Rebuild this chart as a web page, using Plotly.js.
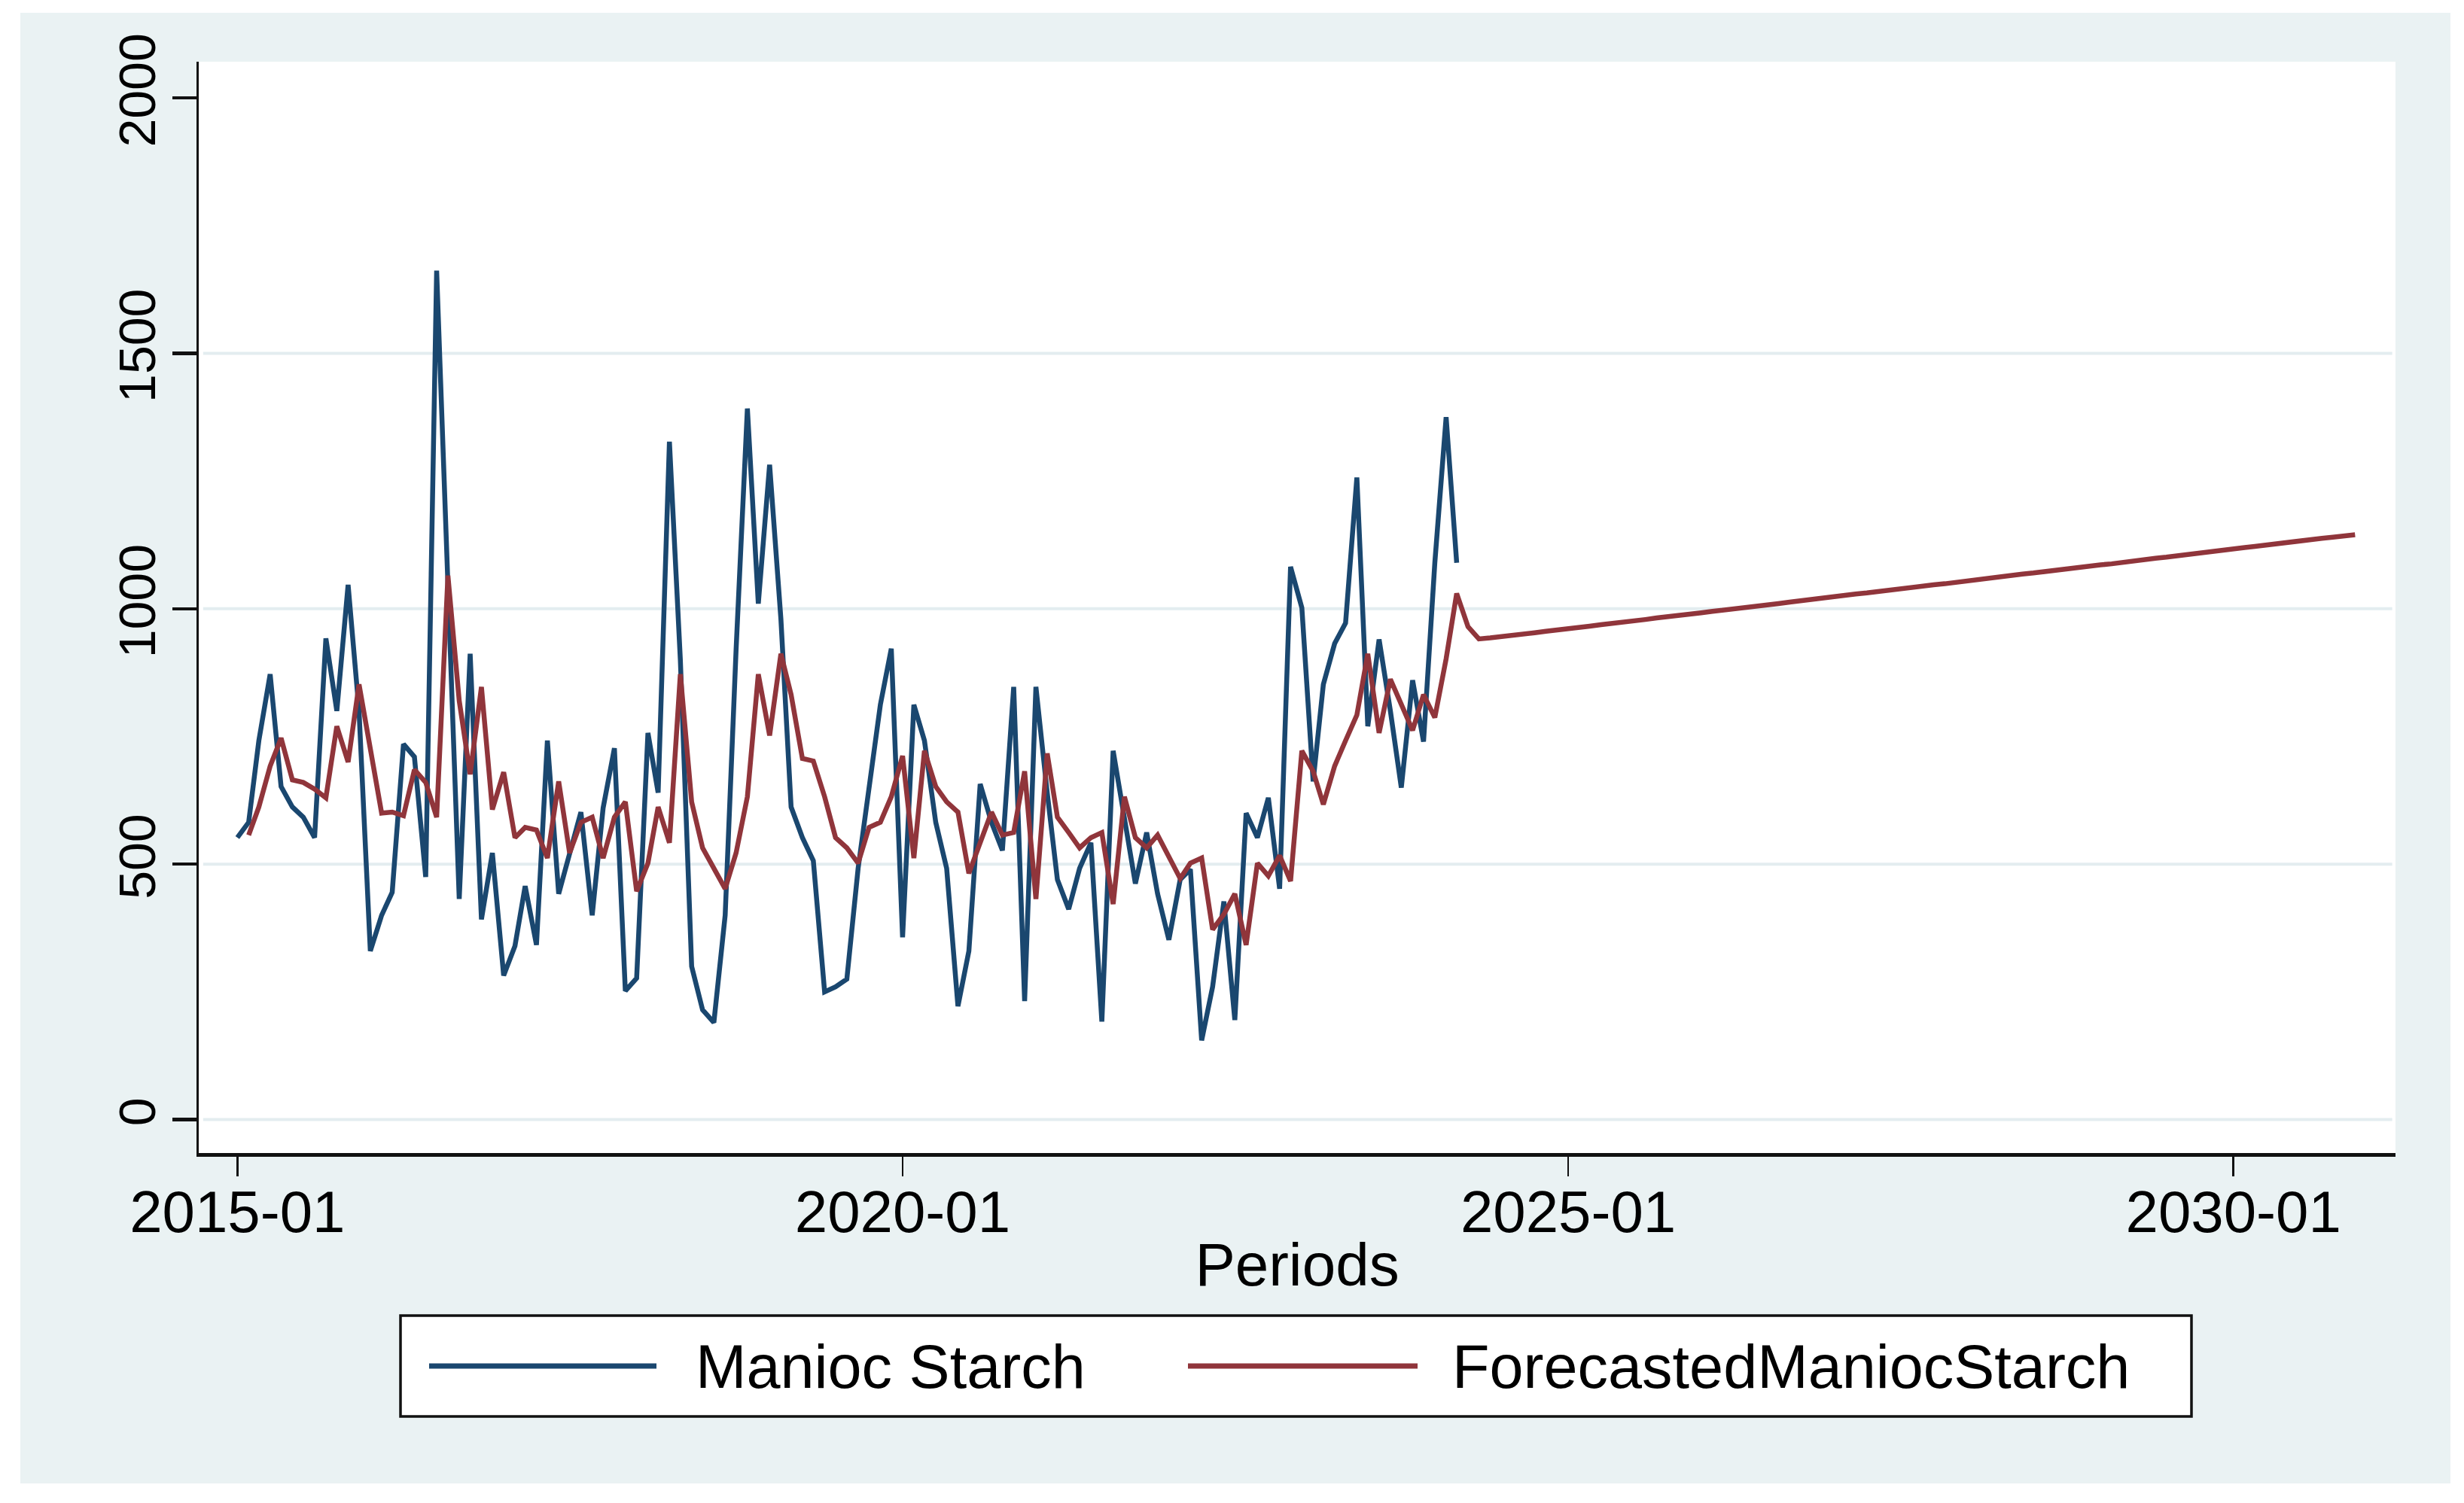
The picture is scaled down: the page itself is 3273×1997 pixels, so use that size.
<!DOCTYPE html>
<html>
<head>
<meta charset="utf-8">
<script src="https://cdn.plot.ly/plotly-3.0.1.min.js"></script>
<style>
  html, body { margin: 0; padding: 0; background: #ffffff; }
  #chart { position: absolute; left: 27px; top: 17px; width: 3228px; height: 1954px; }
</style>
</head>
<body>
<div id="chart"></div>
<script>
// Monthly series; the first observation is January 2015.
const startYear = 2015;
const startMonth = 1;

// Observed manioc starch, 2015-01 .. 2024-03
const maniocStarch = [
  552, 582, 742, 872, 652, 612, 592, 552, 942, 800,
  1047, 800, 330, 400, 445, 735, 710, 475, 1662, 1060,
  432, 912, 392, 522, 282, 340, 457, 342, 742, 442,
  520, 602, 400, 610, 727, 252, 277, 757, 640, 1327,
  900, 300, 215, 190, 400, 920, 1392, 1010, 1282, 980,
  612, 552, 507, 250, 260, 275, 492, 642, 812, 922,
  357, 812, 742, 582, 492, 222, 330, 657, 582, 527,
  847, 232, 847, 640, 470, 412, 492, 542, 192, 722,
  592, 462, 562, 442, 352, 470, 490, 155, 260, 427,
  195, 600, 552, 630, 452, 1082, 1002, 662, 852, 932,
  972, 1257, 770, 940, 800, 650, 860, 740, 1090, 1375,
  1090
];

// Forecast starts one month after the first observation (2015-02 .. 2030-12)
const forecastOffset = 1;
const forecastedManiocStarch = [
  557, 612, 692, 747, 665, 660, 647, 630, 770, 700,
  852, 725, 600, 602, 595, 685, 660, 592, 1065, 820,
  676, 847, 607, 680, 552, 572, 567, 512, 662, 522,
  582, 592, 512, 592, 622, 447, 502, 612, 542, 872,
  622, 532, 492, 452, 522, 632, 872, 752, 912, 832,
  707, 702, 632, 552, 532, 502, 572, 582, 632, 712,
  512, 722, 652, 622, 602, 482, 542, 602, 557, 562,
  682, 432, 717, 592, 562, 532, 552, 562, 422, 632,
  552, 532, 557, 512, 472, 502, 512, 372, 402, 442,
  342, 502, 477, 517, 467, 722, 682, 617, 692, 742,
  792, 912, 757, 862, 812, 762, 832, 787, 902, 1030,
  // out-of-sample horizon, 2024-04 .. 2030-12
  965, 941, 943, 945, 948, 951, 953, 956, 958, 961,
  964, 966, 969, 971, 974, 977, 979, 982, 984, 987,
  990, 992, 995, 997, 1000, 1003, 1005, 1008, 1010, 1013,
  1016, 1018, 1021, 1023, 1026, 1029, 1031, 1034, 1036, 1039,
  1042, 1044, 1047, 1049, 1052, 1055, 1057, 1060, 1062, 1065,
  1068, 1070, 1073, 1075, 1078, 1081, 1083, 1086, 1088, 1091,
  1094, 1096, 1099, 1101, 1104, 1107, 1109, 1112, 1114, 1117,
  1120, 1122, 1125, 1127, 1130, 1133, 1135, 1138, 1140, 1143,
  1145
];

const seriesNames = ["Manioc Starch", "ForecastedManiocStarch"];
const seriesColors = ["#1a476f", "#90353b"];
const xTickLabels = ["2015-01", "2020-01", "2025-01", "2030-01"];
const yTickValues = [0, 500, 1000, 1500, 2000];
const gridValues = [0, 500, 1000, 1500];
const xAxisTitle = "Periods";

function monthDate(offset) {
  const total = startYear * 12 + (startMonth - 1) + offset;
  const y = Math.floor(total / 12);
  const m = (total % 12) + 1;
  return y + "-" + String(m).padStart(2, "0") + "-01";
}

const xActual = maniocStarch.map((_, i) => monthDate(i));
const xForecast = forecastedManiocStarch.map((_, i) => monthDate(i + forecastOffset));

// plot-area geometry inside the chart div (pixels)
const plotL = 237, plotT = 65, plotW = 2918, plotH = 1450;
const divW = 3228, divH = 1954;
const divX = 27, divY = 17;
const px = v => (v - divX - plotL) / plotW;   // page x -> paper x
const py = v => 1 - (v - divY - plotT) / plotH; // page y -> paper y

const fontFamily = '"Liberation Sans", Arial, Helvetica, sans-serif';

const traces = [
  {
    x: xActual, y: maniocStarch, name: seriesNames[0],
    type: "scatter", mode: "lines",
    line: { color: seriesColors[0], width: 6.5 },
    hoverinfo: "skip"
  },
  {
    x: xForecast, y: forecastedManiocStarch, name: seriesNames[1],
    type: "scatter", mode: "lines",
    line: { color: seriesColors[1], width: 6.5 },
    hoverinfo: "skip"
  }
];

const shapes = [];
gridValues.forEach(g => {
  shapes.push({
    type: "line", xref: "paper", yref: "y",
    x0: 0.002, x1: 0.9985, y0: g, y1: g,
    line: { color: "#e3edf0", width: 4 }, layer: "below"
  });
});

// legend frame and keys
shapes.push({
  type: "rect", xref: "paper", yref: "paper",
  x0: px(532), x1: px(2911), y0: py(1748), y1: py(1882),
  fillcolor: "#ffffff", line: { color: "#111111", width: 3.5 }
});
shapes.push({
  type: "line", xref: "paper", yref: "paper",
  x0: px(570), x1: px(872), y0: py(1815), y1: py(1815),
  line: { color: seriesColors[0], width: 7 }
});
shapes.push({
  type: "line", xref: "paper", yref: "paper",
  x0: px(1578), x1: px(1883), y0: py(1815), y1: py(1815),
  line: { color: seriesColors[1], width: 7 }
});

const annotations = [
  {
    text: seriesNames[0], xref: "paper", yref: "paper",
    x: px(922), y: py(1816), xanchor: "left", yanchor: "middle",
    showarrow: false, font: { family: fontFamily, size: 81, color: "#000" }
  },
  {
    text: seriesNames[1], xref: "paper", yref: "paper",
    x: px(1927), y: py(1816), xanchor: "left", yanchor: "middle",
    showarrow: false, font: { family: fontFamily, size: 81, color: "#000" }
  }
];

const layout = {
  width: divW, height: divH,
  paper_bgcolor: "#eaf2f3",
  plot_bgcolor: "#ffffff",
  margin: { l: plotL, r: divW - plotL - plotW, t: plotT, b: divH - plotT - plotH, pad: 0 },
  showlegend: false,
  font: { family: fontFamily, color: "#000" },
  xaxis: {
    type: "date",
    range: ["2014-09-17", "2031-03-22"],
    tickmode: "array",
    tickvals: xTickLabels,
    ticktext: xTickLabels,
    ticks: "outside", ticklen: 26, tickwidth: 2.5, tickcolor: "#111",
    showline: true, linecolor: "#111", linewidth: 4.5,
    showgrid: false, zeroline: false,
    tickfont: { family: fontFamily, size: 78, color: "#000" },
    ticklabelstandoff: -19,
    title: { text: xAxisTitle, font: { family: fontFamily, size: 80, color: "#000" }, standoff: 0 },
    automargin: false
  },
  yaxis: {
    range: [-65.4, 2070.9],
    tickmode: "array",
    tickvals: yTickValues,
    ticktext: yTickValues.map(String),
    ticks: "outside", ticklen: 32, tickwidth: 4.5, tickcolor: "#111",
    showline: true, linecolor: "#111", linewidth: 3.5,
    showgrid: false, zeroline: false,
    tickangle: -90,
    tickfont: { family: fontFamily, size: 68, color: "#000" },
    ticklabelstandoff: -5,
    automargin: false
  },
  shapes: shapes,
  annotations: annotations
};

Plotly.newPlot("chart", traces, layout, { displayModeBar: false, staticPlot: true });
</script>
</body>
</html>
